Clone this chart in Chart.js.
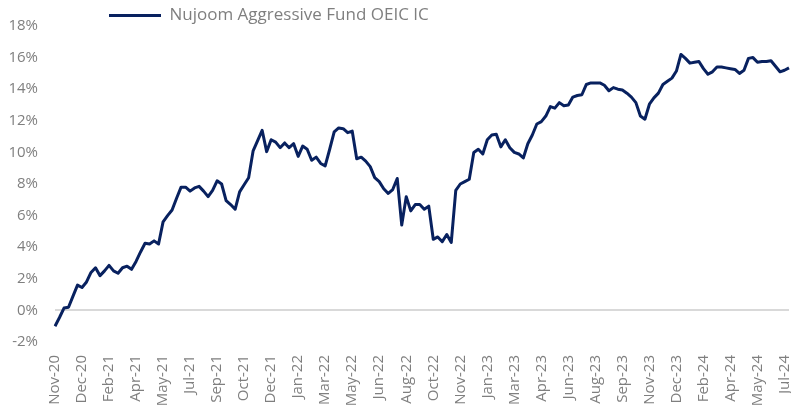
<!DOCTYPE html>
<html>
<head>
<meta charset="utf-8">
<script src="https://cdn.jsdelivr.net/npm/chart.js@4.4.1/dist/chart.umd.min.js"></script>
<style>
  html, body { margin: 0; padding: 0; background: #ffffff; }
  #wrap { width: 791px; height: 416px; position: relative; }
</style>
</head>
<body>
<div id="wrap"><canvas id="fundChart"></canvas></div>
<script>
// ===================================
// DATA
// ===================================
const seriesName = "Nujoom Aggressive Fund OEIC IC";

// tick labels on the date axis, one every 6 points
const tickLabels = [
  "Nov-20", "Dec-20", "Feb-21", "Apr-21", "May-21", "Jul-21", "Sep-21",
  "Oct-21", "Dec-21", "Jan-22", "Mar-22", "May-22", "Jun-22", "Aug-22",
  "Oct-22", "Nov-22", "Jan-23", "Mar-23", "Apr-23", "Jun-23", "Aug-23",
  "Sep-23", "Nov-23", "Dec-23", "Feb-24", "Apr-24", "May-24", "Jul-24"
];
const pointsPerTick = 6;

// cumulative return (%)
const fundReturn = [
  -1.0, -0.45, 0.15, 0.2, 0.9, 1.6, 1.45, 1.8, 2.4, 2.7,
  2.2, 2.5, 2.85, 2.5, 2.35, 2.7, 2.8, 2.6, 3.1, 3.7,
  4.25, 4.2, 4.4, 4.2, 5.6, 6.0, 6.35, 7.1, 7.8, 7.8,
  7.55, 7.75, 7.85, 7.55, 7.2, 7.6, 8.2, 8.0, 6.95, 6.7,
  6.4, 7.5, 7.95, 8.4, 10.1, 10.75, 11.4, 10.05, 10.8, 10.65,
  10.3, 10.6, 10.3, 10.55, 9.75, 10.4, 10.2, 9.5, 9.7, 9.3,
  9.15, 10.2, 11.3, 11.55, 11.5, 11.25, 11.35, 9.6, 9.7, 9.45,
  9.1, 8.4, 8.15, 7.7, 7.4, 7.65, 8.35, 5.4, 7.2, 6.3,
  6.7, 6.7, 6.4, 6.6, 4.5, 4.65, 4.35, 4.8, 4.3, 7.6,
  8.0, 8.15, 8.3, 10.0, 10.2, 9.9, 10.8, 11.1, 11.15, 10.35,
  10.8, 10.3, 10.0, 9.9, 9.65, 10.55, 11.1, 11.8, 11.95, 12.3,
  12.9, 12.8, 13.15, 12.95, 13.0, 13.5, 13.6, 13.65, 14.3, 14.4,
  14.4, 14.4, 14.25, 13.9, 14.1, 14.0, 13.95, 13.75, 13.5, 13.15,
  12.3, 12.1, 13.05, 13.45, 13.75, 14.3, 14.5, 14.7, 15.15, 16.2,
  15.95, 15.65, 15.7, 15.75, 15.3, 14.95, 15.1, 15.4, 15.4, 15.35,
  15.3, 15.25, 15.0, 15.2, 15.95, 16.0, 15.7, 15.75, 15.75, 15.8,
  15.45, 15.1, 15.2, 15.35
];

// ===================================
// CHART
// ===================================
const labels = fundReturn.map((v, i) =>
  i % pointsPerTick === 0 && tickLabels[i / pointsPerTick] ? tickLabels[i / pointsPerTick] : ""
);

const lineColor = "#08215f";
const textColor = "#7f7f7f";

// move the legend to where it sits in the original
const legendShift = {
  id: "legendShift",
  afterLayout(chart) {
    chart.legend.left = 109;
    chart.legend.top = 7;
  }
};

const ctx = document.getElementById("fundChart").getContext("2d");
const fundChart = new Chart(ctx, {
  type: "line",
  data: {
    labels: labels,
    datasets: [{
      label: seriesName,
      data: fundReturn,
      borderColor: lineColor,
      backgroundColor: lineColor,
      borderWidth: 3,
      pointRadius: 0,
      tension: 0,
      borderJoinStyle: "round",
      fill: false
    }]
  },
  options: {
    responsive: true,
    maintainAspectRatio: false,
    animation: false,
    layout: {
      padding: { top: -2, right: 2, bottom: 5, left: 0 }
    },
    plugins: {
      legend: {
        display: true,
        position: "top",
        align: "start",
        labels: {
          usePointStyle: true,
          pointStyle: "line",
          pointStyleWidth: 52,
          boxHeight: 3,
          padding: 0,
          color: textColor,
          font: { family: "'Open Sans'", size: 17 }
        }
      },
      tooltip: { enabled: false }
    },
    scales: {
      x: {
        type: "category",
        offset: false,
        grid: { display: false, drawTicks: false },
        border: { display: false },
        ticks: {
          autoSkip: false,
          minRotation: 90,
          maxRotation: 90,
          padding: 13,
          color: textColor,
          font: { family: "'Open Sans'", size: 15 }
        },
        afterFit(scale) {
          scale.paddingRight = 0;
          scale.paddingLeft = 0;
          scale.height = 69;
        }
      },
      y: {
        min: -2,
        max: 18,
        grid: {
          drawTicks: false,
          lineWidth: 2,
          color: (c) => (c.tick && c.tick.value === 0 ? "#d9d9d9" : "rgba(0,0,0,0)")
        },
        border: { display: false },
        ticks: {
          stepSize: 2,
          padding: 17,
          color: textColor,
          font: { family: "'Open Sans'", size: 15 },
          callback: (v) => v + "%"
        },
        afterFit(scale) {
          scale.width = 55;
        }
      }
    }
  },
  plugins: [legendShift]
});
</script>
</body>
</html>
